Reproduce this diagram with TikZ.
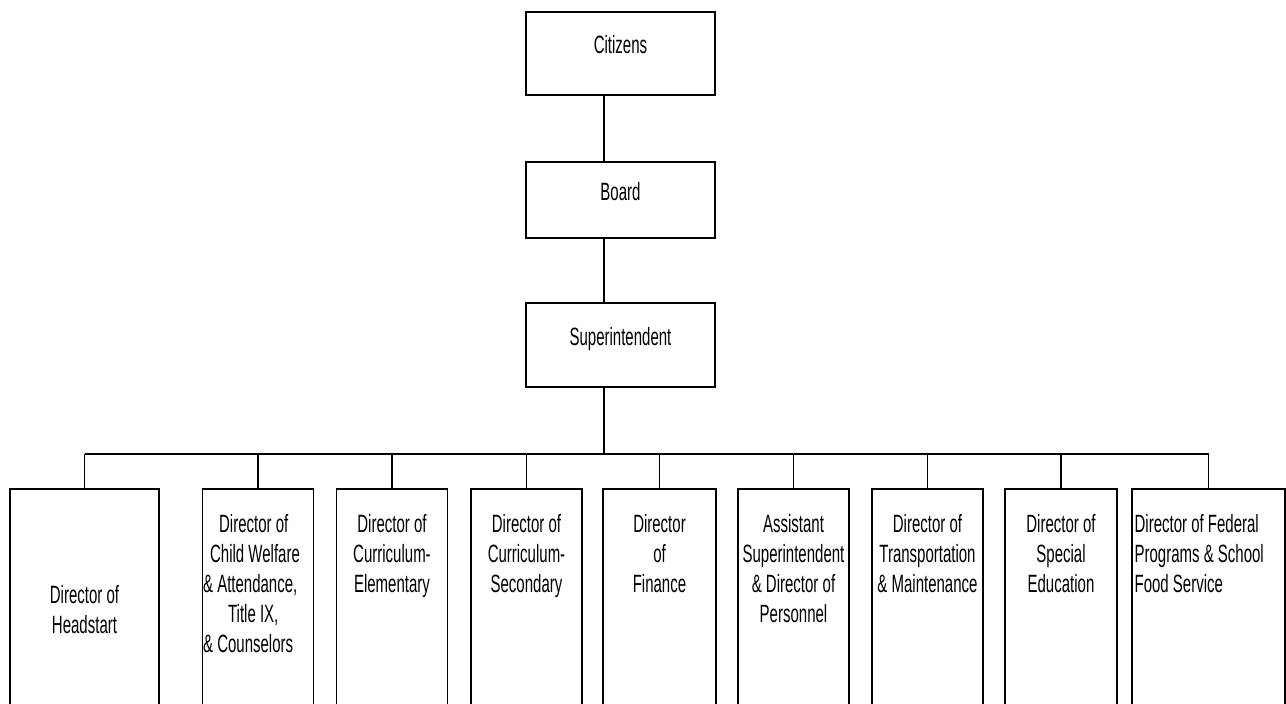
\documentclass[tikz,border=0pt]{standalone}
\usepackage{fontspec}
\setmainfont{Liberation Sans}[FakeStretch=0.6]
\usetikzlibrary{positioning}
\tikzset{
  topbox/.style={draw, line width=0.8pt, minimum width=94.5pt, text height=6pt, text depth=6pt},
  dirbox/.style={draw, line width=0.8pt, minimum width=55.5pt, minimum height=125pt, anchor=north},
  dirtext/.style={align=center, inner sep=0pt},
  link/.style={line width=0.6pt}
}
\begin{document}
\begin{tikzpicture}[x=0.5pt, y=-0.5pt, font=\fontsize{12.5}{15}\selectfont]
      \useasboundingbox (0,0) rectangle (1286,703);
      \node[topbox, minimum height=41.5pt] (citizens) at (620.5,53.5) {Citizens};
      \node[topbox, minimum height=38pt] (board) at (620.5,200) {Board};
      \node[topbox, minimum height=42pt] (super) at (620.5,345) {Superintendent};
      \coordinate (spine) at (604,454);
      \node[dirbox, minimum width=74.5pt] (headstart) at (84.5,488) {};
      \node[dirbox] (welfare) at (258,488) {};
      \node[dirbox] (elementary) at (392,488) {};
      \node[dirbox] (secondary) at (526.5,488) {};
      \node[dirbox, minimum width=56.5pt] (finance) at (659.5,488) {};
      \node[dirbox] (assistant) at (793.5,488) {};
      \node[dirbox] (transport) at (927.5,488) {};
      \node[dirbox, minimum width=56pt] (special) at (1061,488) {};
      \node[dirbox, minimum width=76.5pt] (federal) at (1208.5,488) {};
      \node[dirtext, below=48.5pt of headstart.north] (headstart-t) {Director of\\Headstart};
      \node[dirtext, align=left, below right=13pt and 0.5pt of welfare.north west] (welfare-t)
        {\hspace*{8pt}Director of\\\hspace*{3.5pt}Child Welfare\\\& Attendance,\\\hspace*{12.5pt}Title IX,\\\& Counselors};
      \node[dirtext, below=13pt of elementary.north] (elementary-t) {Director of\\Curriculum-\\Elementary};
      \node[dirtext, below=13pt of secondary.north] (secondary-t) {Director of\\Curriculum-\\Secondary};
      \node[dirtext, below=13pt of finance.north] (finance-t) {Director\\of\\Finance};
      \node[dirtext, below=13pt of assistant.north] (assistant-t) {Assistant\\Superintendent\\\& Director of\\Personnel};
      \node[dirtext, below=13pt of transport.north] (transport-t) {Director of\\Transportation\\\& Maintenance};
      \node[dirtext, below=13pt of special.north] (special-t) {Director of\\Special\\Education};
      \node[dirtext, align=left, below right=13pt and 1.5pt of federal.north west] (federal-t)
        {Director of Federal\\Programs \& School\\Food Service};
      \draw[link] (citizens.south -| spine) -- (board.north -| spine);
      \draw[link] (board.south -| spine) -- (super.north -| spine);
      \draw[link] (super.south -| spine) -- (spine);
      \draw[link] (headstart.north |- spine) -- (federal.north |- spine);
      \foreach \d in {headstart,welfare,elementary,secondary,finance,assistant,transport,special,federal}
        \draw[link] (\d.north) -- (\d.north |- spine);
    \end{tikzpicture}
\end{document}
